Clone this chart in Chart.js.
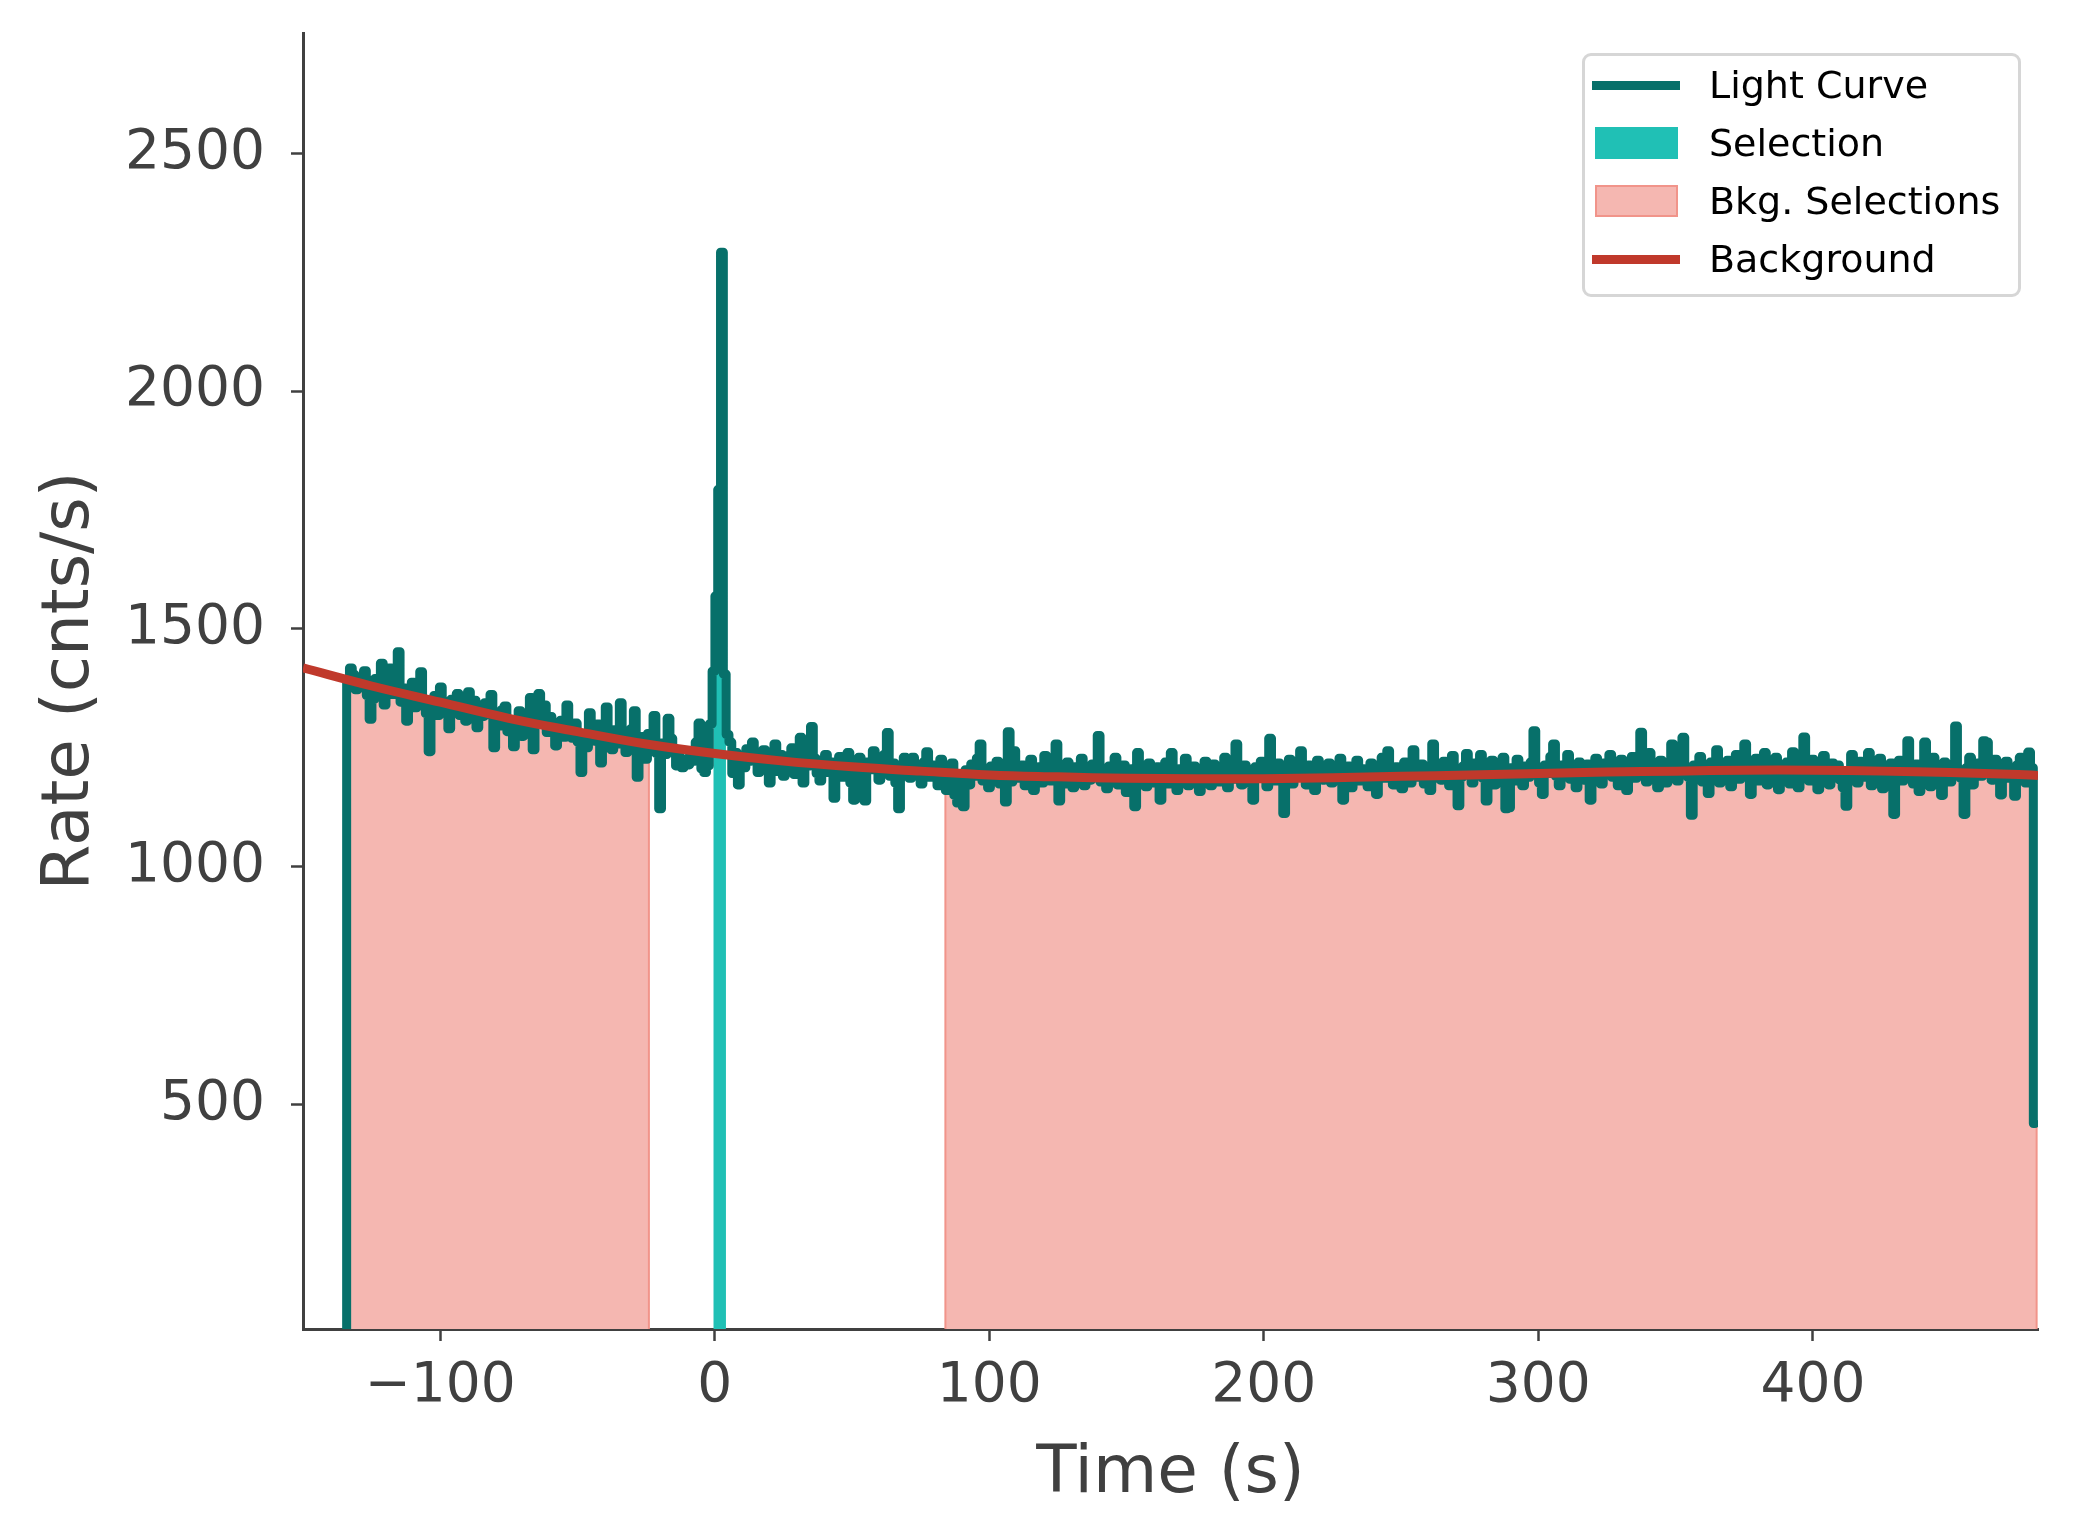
<!DOCTYPE html>
<html>
<head>
<meta charset="utf-8">
<title>Light curve</title>
<script src="https://cdn.jsdelivr.net/npm/chart.js@4.4.1/dist/chart.umd.min.js"></script>
<style>
    html, body { margin: 0; padding: 0; background: #ffffff; }
    #wrap { position: relative; width: 2074px; height: 1540px; }
    #legend {
        position: absolute; left: 1582px; top: 53px; width: 433px; height: 238px;
        border: 3px solid #d6d6d6; border-radius: 9px; background: rgba(255,255,255,0.8);
        font-family: 'DejaVu Sans', sans-serif; font-size: 38px; color: #000;
    }
    .legend-item { position: absolute; left: 0; height: 44px; width: 100%; }
    .legend-item .handle { position: absolute; box-sizing: border-box; }
    .legend-item span { position: absolute; left: 124px; top: 0; line-height: 44px; white-space: nowrap; }
</style>
</head>
<body>
<div id="wrap">
    <canvas id="lc" width="2074" height="1540"></canvas>
    <div id="legend"></div>
</div>
<script>
// binned light curve (1.024 s bins), rate in cnts/s
const TSTART = -134.1;
const BIN = 1.024;
const T_END = 480.9;
const rates = [
    1390, 1418, 1404, 1372, 1398, 1385, 1412, 1360, 1310, 1352,
    1396, 1374, 1428, 1340, 1392, 1418, 1362, 1384, 1452, 1346,
    1376, 1306, 1358, 1388, 1334, 1370, 1410, 1344, 1322, 1242,
    1338, 1360, 1318, 1378, 1348, 1325, 1290, 1352, 1336, 1364,
    1318, 1344, 1306, 1368, 1332, 1350, 1292, 1338, 1316, 1345,
    1320, 1362, 1250, 1318, 1296, 1330, 1338, 1284, 1306, 1252,
    1296, 1328, 1274, 1314, 1290, 1356, 1246, 1300, 1364, 1310,
    1340, 1282, 1316, 1296, 1254, 1288, 1308, 1272, 1340, 1286,
    1270, 1302, 1262, 1198, 1276, 1250, 1324, 1290, 1264, 1300,
    1218, 1282, 1336, 1270, 1246, 1288, 1258, 1345, 1276, 1240,
    1262, 1290, 1328, 1188, 1254, 1274, 1226, 1280, 1246, 1318,
    1238, 1122, 1260, 1236, 1312, 1270, 1244, 1212, 1230, 1208,
    1226, 1214, 1240, 1222, 1262, 1302, 1206, 1198, 1212, 1300,
    1411, 1569, 1793, 2292, 1405, 1278, 1262, 1196, 1240, 1172,
    1230, 1208, 1248, 1222, 1262, 1236, 1198, 1214, 1246, 1204,
    1176, 1228, 1258, 1200, 1236, 1190, 1218, 1234, 1250, 1194,
    1226, 1272, 1176, 1240, 1212, 1295, 1228, 1196, 1180, 1224,
    1236, 1198, 1220, 1144, 1210, 1232, 1188, 1218, 1240, 1176,
    1140, 1214, 1230, 1196, 1138, 1220, 1204, 1244, 1226, 1182,
    1210, 1236, 1282, 1190, 1218, 1176, 1122, 1196, 1230, 1208,
    1186, 1230, 1212, 1196, 1174, 1220, 1242, 1188, 1214, 1196,
    1170, 1226, 1204, 1160, 1180, 1218, 1150, 1134, 1190, 1126,
    1204, 1172, 1216, 1190, 1228, 1258, 1180, 1206, 1166, 1212,
    1196, 1222, 1174, 1210, 1136, 1284, 1178, 1244, 1198, 1186,
    1214, 1170, 1200, 1226, 1160, 1192, 1210, 1176, 1234, 1196,
    1180, 1218, 1258, 1138, 1200, 1174, 1220, 1192, 1166, 1210,
    1196, 1228, 1170, 1204, 1182, 1216, 1190, 1276, 1178, 1200,
    1164, 1212, 1188, 1230, 1172, 1198, 1214, 1156, 1190, 1206,
    1126, 1240, 1184, 1202, 1168, 1218, 1194, 1176, 1210, 1140,
    1198, 1220, 1174, 1240, 1186, 1160, 1206, 1192, 1228, 1170,
    1196, 1212, 1180, 1158, 1204, 1222, 1188, 1170, 1216, 1194,
    1178, 1208, 1230, 1166, 1196, 1184, 1258, 1192, 1172, 1214,
    1200, 1176, 1140, 1210, 1188, 1222, 1194, 1168, 1270, 1206,
    1180, 1218, 1196, 1112, 1192, 1226, 1174, 1206, 1188, 1244,
    1198, 1172, 1214, 1190, 1160, 1224, 1206, 1182, 1196, 1218,
    1176, 1204, 1190, 1228, 1140, 1186, 1212, 1166, 1198, 1224,
    1180, 1206, 1192, 1168, 1218, 1196, 1152, 1208, 1230, 1186,
    1244, 1194, 1172, 1210, 1186, 1164, 1220, 1198, 1176, 1246,
    1204, 1188, 1216, 1174, 1200, 1160, 1258, 1192, 1210, 1182,
    1222, 1196, 1170, 1234, 1206, 1128, 1188, 1212, 1238, 1194,
    1176, 1218, 1202, 1236, 1186, 1138, 1200, 1224, 1172, 1210,
    1194, 1230, 1122, 1124, 1208, 1180, 1226, 1196, 1170, 1212,
    1188, 1220, 1286, 1200, 1176, 1152, 1214, 1196, 1232, 1258,
    1190, 1170, 1214, 1202, 1236, 1184, 1210, 1166, 1220, 1198,
    1182, 1216, 1140, 1204, 1228, 1192, 1174, 1218, 1200, 1236,
    1188, 1212, 1170, 1226, 1196, 1160, 1208, 1232, 1186, 1214,
    1283, 1202, 1178, 1240, 1196, 1212, 1166, 1224, 1192, 1176,
    1218, 1258, 1198, 1180, 1226, 1272, 1206, 1188, 1108, 1214,
    1196, 1232, 1178, 1208, 1154, 1220, 1190, 1246, 1176, 1212,
    1198, 1224, 1168, 1206, 1236, 1184, 1210, 1258, 1194, 1152,
    1204, 1228, 1180, 1196, 1240, 1172, 1216, 1190, 1230, 1162,
    1208, 1186, 1220, 1174, 1242, 1198, 1166, 1214, 1273, 1196,
    1180, 1226, 1204, 1162, 1210, 1234, 1188, 1172, 1218, 1196,
    1214, 1182, 1166, 1127, 1200, 1236, 1192, 1176, 1222, 1204,
    1188, 1240, 1170, 1212, 1196, 1228, 1164, 1206, 1182, 1218,
    1110, 1196, 1224, 1180, 1210, 1265, 1192, 1174, 1216, 1158,
    1206, 1262, 1196, 1168, 1230, 1188, 1212, 1150, 1220, 1198,
    1178, 1214, 1296, 1204, 1186, 1110, 1208, 1230, 1172, 1196,
    1218, 1190, 1265, 1262, 1204, 1182, 1226, 1194, 1151, 1210,
    1222, 1186, 1200, 1148, 1214, 1230, 1196, 1176, 1241, 1208,
    460
];

// fitted background model
const bkgTimes = [-150, -125, -100, -75, -50, -25, 0, 25, 50, 75, 100, 125, 150, 175, 200, 225, 250, 275, 300, 325, 350, 375, 400, 425, 450, 475, 482];
const bkgRates = [1418, 1380, 1346, 1312, 1284, 1258, 1238, 1222, 1210, 1201, 1193, 1189, 1186, 1185, 1185, 1187, 1190, 1193, 1196, 1199, 1201, 1203, 1203, 1201, 1198, 1194, 1192];

const selection = [-0.1, 3.7];
const bkgSelections = [[-133.5, -24], [84, 481.5]];

const xTicks = [-100, 0, 100, 200, 300, 400];
const yTicks = [500, 1000, 1500, 2000, 2500];
const xRange = [-150, 482];
const yRange = [28, 2753];

const seriesNames = ['Light Curve', 'Selection', 'Bkg. Selections', 'Background'];
const colors = { lc: '#07706a', sel: '#20c0b5', bkgFill: '#f5b7b1', bkgEdge: '#f1948a', bkg: '#c0392b' };
const FONT = "'DejaVu Sans', sans-serif";
const INK = '#404040';

function binEdge(k) { return k < rates.length ? TSTART + k * BIN : T_END; }

function rateAt(t) {
    let k = Math.floor((t - TSTART) / BIN);
    if (k < 0) k = 0;
    if (k > rates.length - 1) k = rates.length - 1;
    return rates[k];
}

function lightCurvePoints() {
    const pts = [{ x: TSTART - BIN, y: 0 }];
    for (let k = 0; k < rates.length; k++) pts.push({ x: binEdge(k), y: rates[k] });
    pts.push({ x: T_END, y: rates[rates.length - 1] });
    return pts;
}

// step curve cut to [a, b], closed down to zero so it can be filled
function fillPoints(a, b) {
    const pts = [{ x: a, y: 0 }, { x: a, y: rateAt(a) }];
    let k = Math.floor((a - TSTART) / BIN) + 1;
    while (k < rates.length && binEdge(k) < b) {
        pts.push({ x: binEdge(k), y: rates[k] });
        k++;
    }
    pts.push({ x: b, y: rateAt(b - 1e-6) });
    pts.push({ x: b, y: 0 });
    return pts;
}

const datasets = [];
bkgSelections.forEach((r, i) => {
    datasets.push({
        label: i === 0 ? seriesNames[2] : '',
        data: fillPoints(r[0], r[1]),
        stepped: true, fill: 'origin',
        backgroundColor: colors.bkgFill, borderColor: colors.bkgEdge, borderWidth: 2,
        pointRadius: 0, clip: 0, order: 4
    });
});
datasets.push({
    label: seriesNames[1],
    data: fillPoints(selection[0], selection[1]),
    stepped: true, fill: 'origin',
    backgroundColor: colors.sel, borderColor: colors.sel, borderWidth: 2,
    pointRadius: 0, clip: 0, order: 3
});
datasets.push({
    label: seriesNames[0],
    data: lightCurvePoints(),
    stepped: true, fill: false,
    borderColor: colors.lc, borderWidth: 9,
    borderJoinStyle: 'round', borderCapStyle: 'round',
    pointRadius: 0, clip: 0, order: 2
});
datasets.push({
    label: seriesNames[3],
    data: bkgTimes.map((t, i) => ({ x: t, y: bkgRates[i] })),
    fill: false, tension: 0.4,
    borderColor: colors.bkg, borderWidth: 9,
    pointRadius: 0, clip: 0, order: 1
});

const axisCommon = {
    type: 'linear',
    grid: { drawOnChartArea: false, drawTicks: true, tickLength: 12, tickWidth: 2.5, tickColor: INK },
    border: { display: true, color: INK, width: 3 }
};

new Chart(document.getElementById('lc').getContext('2d'), {
    type: 'line',
    data: { datasets },
    options: {
        responsive: false,
        animation: false,
        layout: { padding: { left: 0, top: 33, right: 36, bottom: 0 } },
        plugins: { legend: { display: false }, tooltip: { enabled: false } },
        scales: {
            x: {
                ...axisCommon,
                min: xRange[0], max: xRange[1],
                afterFit: (a) => { a.height = 211; a.paddingLeft = 0; a.paddingRight = 0; },
                afterBuildTicks: (a) => { a.ticks = xTicks.map(v => ({ value: v })); },
                ticks: {
                    autoSkip: false, maxRotation: 0, padding: 13, color: INK,
                    font: { family: FONT, size: 55 },
                    callback: (v) => v < 0 ? '\u2212' + Math.abs(v) : String(v)
                },
                title: { display: true, text: 'Time (s)', color: INK, font: { family: FONT, size: 66 }, padding: { top: 0, bottom: 26 } }
            },
            y: {
                ...axisCommon,
                min: yRange[0], max: yRange[1],
                afterFit: (a) => { a.width = 303; a.paddingTop = 0; a.paddingBottom = 0; },
                afterBuildTicks: (a) => { a.ticks = yTicks.map(v => ({ value: v })); },
                ticks: {
                    autoSkip: false, padding: 26, color: INK,
                    font: { family: FONT, size: 55 },
                    callback: (v) => String(v)
                },
                title: { display: true, text: 'Rate (cnts/s)', color: INK, font: { family: FONT, size: 66 }, padding: { top: 31, bottom: 0 } }
            }
        }
    }
});

// --- legend (html, matplotlib style) ---
function renderLegend() {
    const box = document.getElementById('legend');
    const rows = [29, 87, 145, 203];
    const handles = [
        { left: 7, width: 88, height: 9, bg: colors.lc, border: 'none' },
        { left: 10, width: 83, height: 32, bg: colors.sel, border: 'none' },
        { left: 10, width: 83, height: 32, bg: colors.bkgFill, border: '2px solid ' + colors.bkgEdge },
        { left: 7, width: 88, height: 9, bg: colors.bkg, border: 'none' }
    ];
    seriesNames.forEach((name, i) => {
        const h = handles[i];
        const item = document.createElement('div');
        item.className = 'legend-item';
        item.style.top = (rows[i] - 22) + 'px';
        item.innerHTML = `
            <div class="handle" style="left:${h.left}px; top:${22 - h.height / 2}px; width:${h.width}px; height:${h.height}px; background:${h.bg}; border:${h.border};"></div>
            <span>${name}</span>`;
        box.appendChild(item);
    });
}
renderLegend();
</script>
</body>
</html>
